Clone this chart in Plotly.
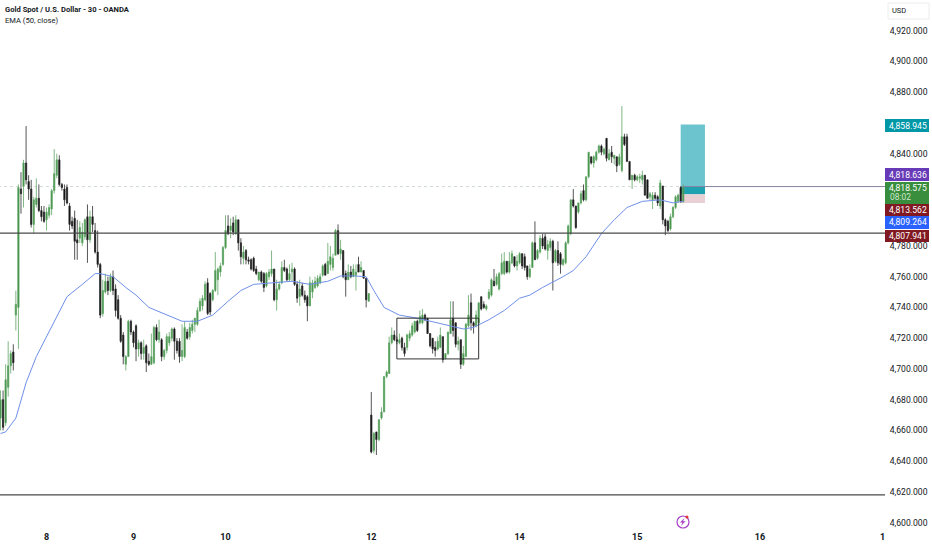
import plotly.graph_objects as go

W, H = 932, 550
PLOT_W, PLOT_H = 885, 530

opens = [
 4668,4680,4665,4688,4702,4711,4735,4740,4817,4819,
 4834,4822,4817,4794,4807,4811,4803,4802,4797,4800,
 4804,4816,4826,4836,4820,4817,4818,4806,4796,4798,
 4784,4785,4782,4786,4799,4784,4799,4790,4776,4768,
 4736,4750,4757,4751,4760,4752,4745,4733,4722,4703,
 4708,4731,4724,4728,4713,4717,4710,4715,4705,4703,
 4704,4727,4719,4719,4708,4712,4717,4720,4726,4718,
 4718,4708,4708,4724,4721,4725,4729,4729,4738,4741,
 4745,4756,4749,4745,4751,4758,4763,4768,4779,4793,
 4790,4795,4788,4797,4782,4772,4777,4771,4771,4772,
 4765,4758,4763,4762,4754,4760,4762,4765,4745,4752,
 4756,4766,4765,4758,4763,4765,4755,4747,4754,4748,
 4747,4741,4750,4753,4754,4756,4761,4768,4762,4768,
 4766,4774,4790,4775,4777,4762,4758,4763,4760,4761,
 4768,4763,4764,4759,4744,4670,4647,4659,4654,4668,
 4672,4695,4697,4717,4722,4719,4717,4720,4714,4714,
 4720,4722,4724,4731,4730,4730,4735,4733,4723,4720,
 4714,4713,4714,4721,4707,4710,4723,4733,4730,4716,
 4719,4703,4708,4728,4743,4730,4728,4730,
 4747,4742,4739,4746,4748,4757,4755,4752,4762,4762,4770,4763,
 4769,4773,4767,4769,4775,4773,4767,4760,4766,4782,
 4772,4776,4785,4786,4777,4779,4783,4770,4777,4775,
 4768,4769,4782,4788,4810,4806,4802,4808,4816,4810,
 4825,4838,4834,4836,4841,4845,4840,4850,4836,4841,
 4837,4838,4833,4829,4851,4851,4835,4823,4826,4823,
 4824,4823,4826,4823,4812,4810,4813,4812,4806,4819,
 4797,4796,4791,4799,4805,4809,4818,4809,
]
closes = [
 4680,4662,4693,4702,4710,4704,4742,4818,4814,4834,
 4823,4817,4794,4810,4811,4803,4799,4796,4802,4805,
 4816,4827,4836,4820,4818,4810,4808,4794,4793,4783,
 4782,4792,4789,4797,4784,4799,4794,4776,4768,4735,
 4751,4757,4751,4760,4751,4738,4733,4718,4708,4708,
 4731,4724,4717,4713,4717,4710,4714,4704,4703,4708,
 4727,4719,4724,4708,4712,4721,4721,4726,4718,4712,
 4708,4712,4727,4720,4727,4729,4733,4738,4744,4746,
 4755,4736,4737,4751,4764,4765,4767,4779,4790,4788,
 4793,4789,4797,4782,4773,4776,4771,4770,4765,4764,
 4762,4763,4757,4753,4762,4763,4765,4745,4752,4755,
 4766,4764,4758,4762,4765,4755,4746,4752,4748,4745,
 4741,4756,4756,4757,4759,4760,4767,4761,4770,4773,
 4772,4790,4775,4778,4760,4758,4763,4760,4765,4763,
 4763,4766,4759,4745,4749,4646,4658,4654,4667,4672,
 4695,4698,4717,4722,4719,4718,4719,4714,4710,4722,
 4723,4728,4731,4725,4734,4735,4732,4723,4715,4713,
 4712,4718,4722,4706,4710,4724,4732,4725,4716,4718,
 4703,4710,4729,4735,4730,4728,4735,4743,
 4739,4740,4741,4750,4758,4754,4760,4762,4769,4770,4763,4770,
 4775,4767,4770,4775,4767,4766,4760,4765,4782,4771,
 4777,4785,4780,4778,4781,4783,4769,4777,4769,4768,
 4771,4782,4793,4810,4806,4792,4808,4814,4810,4825,
 4841,4834,4838,4841,4845,4841,4843,4837,4840,4838,
 4839,4832,4838,4851,4846,4835,4823,4826,4823,4825,
 4825,4826,4813,4811,4814,4813,4811,4808,4821,4797,
 4793,4790,4799,4805,4812,4813,4809,4818.575,
]
highs = [
 4686,4686,4703,4718,4712,4716,4751,4820,4828,4836,
 4858,4826,4823,4812,4824,4820,4806,4806,4805,4807,
 4817,4843,4840,4839,4821,4820,4820,4808,4799,4803,
 4797,4796,4795,4798,4807,4803,4806,4795,4790,4769,
 4758,4762,4760,4762,4764,4755,4748,4735,4724,4709,
 4732,4732,4725,4729,4719,4718,4719,4716,4710,4723,
 4728,4729,4732,4720,4713,4723,4724,4727,4727,4720,
 4720,4729,4731,4726,4730,4732,4733,4740,4746,4748,
 4757,4759,4750,4752,4776,4766,4769,4780,4800,4800,
 4798,4799,4800,4797,4785,4780,4778,4773,4772,4773,
 4767,4763,4764,4763,4763,4765,4777,4765,4758,4757,
 4770,4771,4766,4768,4769,4766,4757,4758,4756,4751,
 4748,4760,4758,4760,4761,4762,4768,4769,4782,4780,
 4775,4791,4794,4784,4777,4764,4768,4767,4768,4768,
 4773,4770,4764,4759,4749,4685,4659,4659,4667,4675,
 4695,4699,4721,4727,4725,4721,4723,4721,4717,4723,
 4725,4730,4731,4732,4738,4739,4736,4733,4723,4720,
 4718,4721,4727,4721,4710,4724,4744,4744,4730,4721,
 4719,4715,4730,4748,4749,4731,4738,4743,
 4747,4744,4742,4752,4759,4765,4762,4763,4775,4776,4770,4776,
 4777,4773,4774,4776,4775,4775,4767,4768,4783,4796,
 4778,4787,4788,4788,4784,4785,4784,4778,4783,4776,
 4772,4783,4794,4810,4817,4806,4808,4816,4820,4825,
 4841,4838,4839,4842,4846,4846,4844,4850,4843,4845,
 4839,4838,4840,4871,4853,4853,4835,4826,4827,4826,
 4827,4829,4826,4823,4815,4815,4815,4813,4823,4819,
 4798,4797,4801,4806,4813,4814,4819,4820,
]
lows = [
 4660,4660,4663,4682,4697,4699,4725,4713,4801,4805,
 4820,4810,4792,4788,4805,4802,4796,4795,4790,4798,
 4800,4814,4824,4819,4816,4806,4807,4790,4791,4771,
 4771,4782,4780,4784,4769,4782,4789,4775,4766,4733,
 4734,4749,4748,4750,4748,4734,4732,4717,4703,4699,
 4708,4722,4714,4705,4708,4706,4706,4698,4702,4703,
 4703,4718,4717,4705,4706,4710,4715,4718,4706,4710,
 4704,4705,4707,4719,4719,4723,4724,4728,4737,4738,
 4744,4735,4735,4744,4750,4748,4760,4767,4778,4787,
 4785,4787,4787,4777,4768,4768,4768,4768,4764,4763,
 4761,4757,4756,4750,4753,4758,4760,4744,4738,4751,
 4755,4763,4757,4757,4757,4754,4743,4741,4747,4743,
 4731,4741,4746,4752,4753,4755,4760,4761,4762,4764,
 4764,4774,4774,4771,4759,4747,4758,4759,4760,4751,
 4763,4763,4759,4740,4744,4645,4645,4644,4653,4667,
 4672,4694,4697,4716,4718,4716,4716,4712,4708,4712,
 4718,4721,4723,4724,4729,4729,4731,4723,4714,4710,
 4708,4712,4714,4704,4706,4709,4723,4721,4714,4712,
 4700,4702,4708,4727,4725,4723,4727,4729,
 4738,4739,4738,4745,4747,4754,4754,4751,4761,4761,4762,4762,
 4768,4766,4764,4768,4765,4764,4758,4759,4766,4771,
 4771,4775,4778,4777,4771,4777,4751,4769,4767,4762,
 4767,4768,4781,4787,4805,4791,4801,4807,4809,4809,
 4824,4833,4831,4835,4840,4839,4839,4835,4836,4834,
 4833,4828,4832,4828,4845,4835,4823,4817,4822,4822,
 4821,4820,4813,4811,4810,4804,4810,4806,4804,4794,
 4787,4789,4790,4798,4804,4808,4808,4808,
]
bar_index = list(range(len(opens)))

ema_index = [0,2,6,10,14,19,26,32,37,39,44,49,53,58,65,71,77,83,89,94,99,107,114,121,128,
             133,138,143,146,150,156,163,168,175,181,185,191,197,203,207,212,220,224,229,
             235,240,245,251,258,263,267]
ema_values = [4658,4659,4668,4691,4708,4724,4747,4755,4762,4762,4760,4753,4748,4740,4735,4731,
              4731,4735,4744,4751,4755,4756,4757,4755,4757,4760.5,4760.5,4760,4751,4740,4735,
              4733,4731,4728,4726,4727,4732,4738,4746,4748,4753,4760,4764,4773,4788,4797,4805,
              4809,4810,4808,4809]

day_ticks = [18,52,88,145,203,249,297,345]
day_labels = ["8","9","10","12","14","15","16","1"]
price_ticks = [4920,4900,4880,4840,4780,4760,4740,4720,4700,4680,4660,4640,4620,4600]

support_levels = [4788.4, 4618.0]
entry_price = 4818.636
target_price = 4858.945
stop_top = 4813.562
stop_bottom = 4807.941
box_start, box_end = 266, 275.5
range_start, range_end = 155, 187
range_top, range_bottom = 4733, 4706.5

price_labels = [
    ("4,858.945", 119, 132, "#0097A7"),
    ("4,818.636", 168, 181, "#673AB7"),
    ("4,813.562", 204, 216, "#801922"),
    ("4,809.264", 216, 229, "#2962FF"),
    ("4,807.941", 230, 242, "#801922"),
]


def px(x):
    return x / PLOT_W


def py(y):
    return 1 - y / PLOT_H


FONT = "Roboto, sans-serif"
fig = go.Figure()
fig.add_trace(go.Candlestick(
    x=bar_index, open=opens, high=highs, low=lows, close=closes,
    increasing=dict(line=dict(color="#5FA565", width=0.8), fillcolor="#338A3A"),
    decreasing=dict(line=dict(color="#2a2a2a", width=0.8), fillcolor="#000000"),
    whiskerwidth=0, showlegend=False, hoverinfo="skip",
))
fig.add_trace(go.Scatter(x=ema_index, y=ema_values, mode="lines",
                         line=dict(color="#6F90E8", width=1), showlegend=False, hoverinfo="skip"))

shapes = []
for lvl in support_levels:
    shapes.append(dict(type="line", xref="paper", yref="y", x0=0, x1=1, y0=lvl, y1=lvl,
                       line=dict(color="#4a4a4a", width=1.2), layer="above"))
shapes.append(dict(type="line", xref="x", yref="y", x0=-1, x1=box_start, y0=entry_price, y1=entry_price,
                   line=dict(color="#C3D2C4", width=0.8, dash="dot"), layer="below"))
shapes.append(dict(type="line", xref="x", yref="y", x0=box_start, x1=346.5, y0=entry_price, y1=entry_price,
                   line=dict(color="#8585A0", width=1), layer="above"))
shapes.append(dict(type="rect", xref="x", yref="y", x0=range_start, x1=range_end, y0=range_bottom, y1=range_top,
                   line=dict(color="#333333", width=1), layer="above"))
shapes.append(dict(type="rect", xref="x", yref="y", x0=box_start, x1=box_end, y0=entry_price, y1=target_price,
                   fillcolor="#6CC5CE", line=dict(width=0), layer="below"))
shapes.append(dict(type="rect", xref="x", yref="y", x0=box_start, x1=box_end, y0=stop_top, y1=entry_price,
                   fillcolor="#1FA2B0", line=dict(width=0), layer="below"))
shapes.append(dict(type="rect", xref="x", yref="y", x0=box_start, x1=box_end, y0=stop_bottom, y1=stop_top,
                   fillcolor="#E9D0D5", line=dict(width=0), layer="below"))
shapes.append(dict(type="rect", xref="paper", yref="paper", x0=px(888), x1=px(929), y0=py(19), y1=py(3),
                   line=dict(color="#ECECEC", width=1), fillcolor="white"))
shapes.append(dict(type="circle", xref="paper", yref="paper", x0=px(677), x1=px(689), y0=py(528), y1=py(516),
                   line=dict(color="#A63FC4", width=1.2), fillcolor="white"))
bolt = [(684.5, 518), (680, 522.5), (682.5, 522.5), (681, 526), (685.5, 521.3), (683, 521.3)]
shapes.append(dict(type="path", xref="paper", yref="paper",
                   path="M " + " L ".join(f"{px(a):.5f},{py(b):.5f}" for a, b in bolt) + " Z",
                   fillcolor="#A63FC4", line=dict(width=0)))
shapes.append(dict(type="circle", xref="paper", yref="paper", x0=px(685.5), x1=px(688.5), y0=py(518.5), y1=py(515.5),
                   fillcolor="#E53935", line=dict(width=0)))
for _, y0, y1, col in price_labels:
    shapes.append(dict(type="rect", xref="paper", yref="paper", x0=px(885), x1=px(929), y0=py(y1), y1=py(y0),
                       fillcolor=col, line=dict(width=0)))
shapes.append(dict(type="rect", xref="paper", yref="paper", x0=px(885), x1=px(929), y0=py(204), y1=py(182),
                   fillcolor="#388E3C", line=dict(width=0)))

ann = []


def note(text, x, y, size=9, color="#131722", anchor="left", **kw):
    ann.append(dict(text=text, xref="paper", yref="paper", x=px(x), y=py(y), xanchor=anchor, yanchor="middle",
                    showarrow=False, font=dict(family=FONT, size=size, color=color), **kw))


note("<b>Gold Spot / U.S. Dollar - 30 - OANDA</b>", 3, 9.5, size=7.6)
note("EMA (50, close)", 3, 20.5, size=7.6)
note("USD", 890, 11, size=7.5)
for text, y0, y1, _ in price_labels:
    note(text, 908, (y0 + y1) / 2, size=8.6, color="white", anchor="center")
note("4,818.575", 908, 187.5, size=8.6, color="white", anchor="center")
note("08:02", 900, 197.5, size=8.4, color="#CDE8CE", anchor="center")

fig.update_layout(
    width=W, height=H,
    margin=dict(l=0, r=W - PLOT_W, t=0, b=H - PLOT_H, pad=0),
    paper_bgcolor="white", plot_bgcolor="white",
    shapes=shapes, annotations=ann, showlegend=False,
    font=dict(family=FONT),
)
fig.update_xaxes(range=[-0.2, 345.9], rangeslider=dict(visible=False), showgrid=False, zeroline=False,
                 tickmode="array", tickvals=day_ticks, ticktext=[f"<b>{t}</b>" for t in day_labels],
                 tickfont=dict(family=FONT, size=9, color="#131722"), ticks="", showline=False, ticklen=0)
fig.update_yaxes(range=[4595.2, 4940], side="right", showgrid=False, zeroline=False, tickmode="array",
                 tickvals=price_ticks, tickformat=",.3f", tickfont=dict(family=FONT, size=8.6, color="#131722"),
                 ticks="outside", ticklen=2, tickcolor="rgba(0,0,0,0)", showline=False)

fig.write_html("out.html", config=dict(displayModeBar=False),
               post_script="document.body.style.margin='0';document.documentElement.style.overflow='hidden';")
